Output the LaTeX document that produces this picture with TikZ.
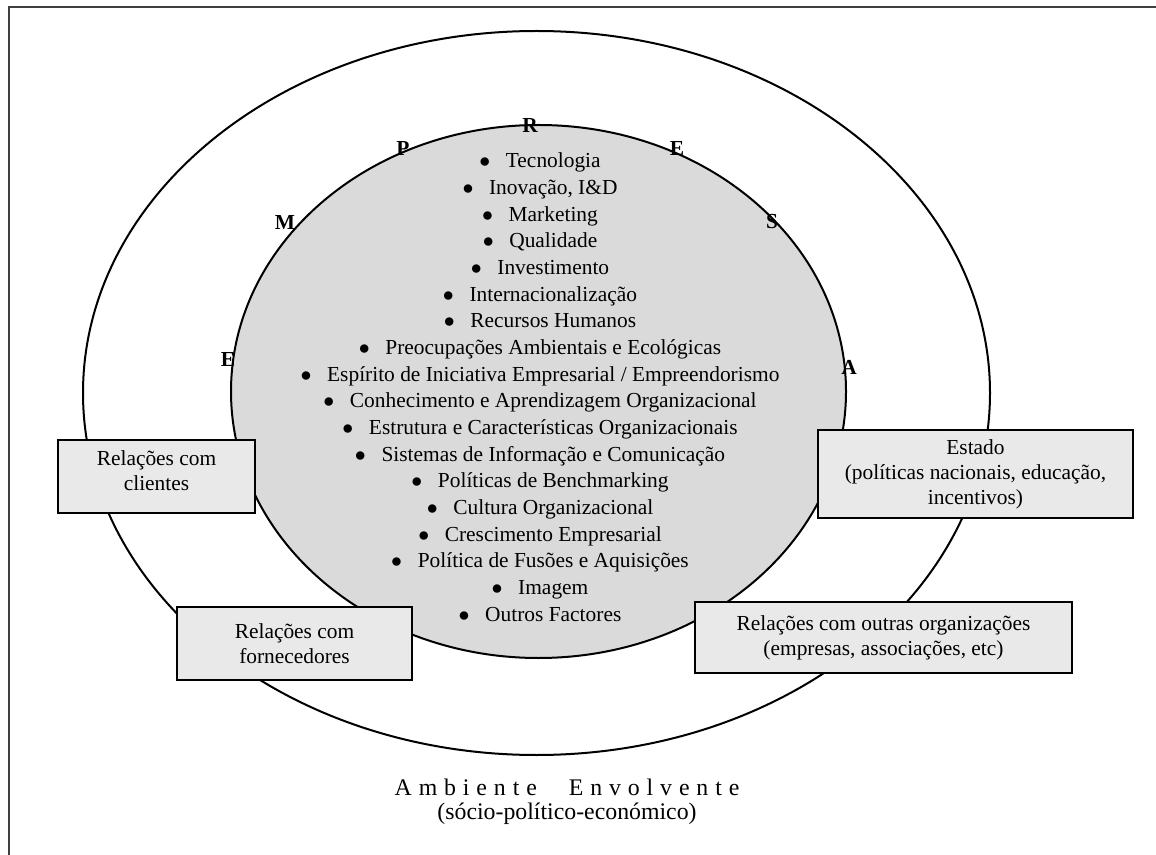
\documentclass[tikz,border=0pt]{standalone}
\usepackage{fontspec}
\setmainfont{Liberation Serif}
\newfontfamily\spacedfont[LetterSpace=29]{Liberation Serif}
\usetikzlibrary{shapes.geometric,calc}
\definecolor{innergray}{RGB}{218,218,218}
\definecolor{boxgray}{RGB}{233,233,233}
\newcommand{\itembullet}{$\bullet$\hspace{7.8pt}}
\begin{document}
\begin{tikzpicture}[x=0.5pt,y=-0.5pt,
  ell/.style={ellipse, draw, line width=1pt, inner sep=0pt, outer sep=0pt},
  letter/.style={font=\fontsize{10.7}{12}\selectfont\bfseries, inner sep=0pt},
  item/.style={font=\fontsize{10.7}{12}\selectfont, anchor=base, inner sep=0pt},
  box/.style={draw, line width=1.2pt, fill=boxgray, inner sep=0pt},
  boxtext/.style={align=center, font=\fontsize{10.7}{12.5}\selectfont, inner sep=0pt},
  bottomtext/.style={font=\fontsize{11.9}{13}\selectfont, anchor=base, inner sep=0pt}
]
\useasboundingbox (0,0) rectangle (1156,855);
\fill[white] (0,0) rectangle (1156,855);
\draw[line width=1.3pt, black!75] (9,855) -- (9,7) -- (1156,7);
% ellipses
\node[ell, minimum width=453.5pt, minimum height=362pt] (outer) at (536.5,393) {};
\node[ell, fill=innergray, minimum width=307.5pt, minimum height=266.5pt] (inner) at (538.5,391.5) {};
% EMPRESA letters
\node[letter] (l1) at (228,359) {E};
\node[letter] (l2) at (285,222) {M};
\node[letter] (l3) at (403,148) {P};
\node[letter] (l4) at (530,125) {R};
\node[letter] (l5) at (677,148) {E};
\node[letter] (l6) at (772,222) {S};
\node[letter] (l7) at (849,367) {A};
% list
\foreach \t [count=\i from 0] in {Tecnologia, {Inovação, I\&D}, Marketing, Qualidade, Investimento, Internacionalização, Recursos Humanos, Preocupações Ambientais e Ecológicas, Espírito de Iniciativa Empresarial / Empreendorismo, Conhecimento e Aprendizagem Organizacional, Estrutura e Características Organizacionais, Sistemas de Informação e Comunicação, Políticas de Benchmarking, Cultura Organizacional, Crescimento Empresarial, Política de Fusões e Aquisições, Imagem, Outros Factores}
  \node[item] (item\i) at (540,168+\i*26.65) {\itembullet\t};
% boxes
\node[box, minimum width=98.5pt, minimum height=36.5pt] (cli) at (156.5,476.5) {};
\node[boxtext] (clitext) at ($(cli.center)+(0,-6)$) {Relações com\\clientes};
\node[box, minimum width=117.5pt, minimum height=36.5pt] (forn) at (294.5,643.5) {};
\node[boxtext] (forntext) at (forn.center) {Relações com\\fornecedores};
\node[box, minimum width=157.5pt, minimum height=44pt] (est) at (975.5,474) {};
\node[boxtext] (esttext) at (est.center) {Estado\\(políticas nacionais, educação,\\incentivos)};
\node[box, minimum width=188.5pt, minimum height=35.5pt] (outras) at (883.5,637.5) {};
\node[boxtext] (outrastext) at (outras.center) {Relações com outras organizações\\(empresas, associações, etc)};
% bottom text
\node[bottomtext] (amb) at (567,795) {{\spacedfont Ambiente}\hspace{16pt}{\spacedfont Envolvente}};
\node[bottomtext] (soc) at (567,819) {(sócio-político-económico)};
\end{tikzpicture}
\end{document}
